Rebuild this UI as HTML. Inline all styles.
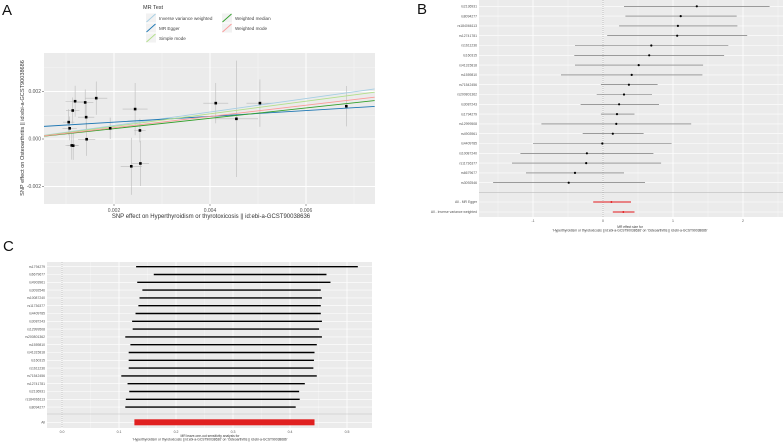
<!DOCTYPE html>
<html><head><meta charset="utf-8">
<style>
html,body{margin:0;padding:0;background:#fff;}
svg{display:block;font-family:"Liberation Sans",sans-serif;}
</style></head>
<body>
<svg id="fig" width="783" height="444" viewBox="0 0 783 444" xmlns="http://www.w3.org/2000/svg"></svg>
<script>
// ---------- Panel A data ----------
const aSnpX = [1.056,1.076,1.12,1.15,1.14,1.19,1.40,1.42,1.43,1.63,1.92,2.36,2.44,2.54,2.55,4.12,4.55,5.04,6.84]; // x1e-3
const aSnpY = [0.71,0.45,-0.27,-0.28,1.20,1.59,1.54,0.92,-0.01,1.72,0.45,-1.15,1.26,0.36,-1.03,1.51,0.85,1.51,1.38];
const aSeX  = [0.12,0.15,0.13,0.12,0.14,0.20,0.17,0.17,0.18,0.23,0.01,0.22,0.26,0.12,0.18,0.26,0.45,0.28,0.01];
const aSeY  = [0.55,0.5,0.6,0.6,0.55,0.65,0.55,0.55,0.7,0.7,0.45,1.2,1.1,0.5,0.95,0.85,2.45,1.0,0.85];
const methodNames = ["Inverse variance weighted","MR Egger","Simple mode","Weighted median","Weighted mode"];
const methodSlopes = [0.284,0.122,0.265,0.218,0.237];
const methodIntercepts = [0,0.465,0,0,0];
const methodColors = ["#a6cee3","#1f78b4","#b2df8a","#33a02c","#fb9a99"];
const aXTicks = [0.002,0.004,0.006];
const aYTicks = [-0.002,0.000,0.002];

// ---------- Panel B data ----------
const bSnps = ["rs2136931","rs8094277","rs184066113","rs12741781","rs1611236","rs160315","rs41315818","rs1559810","rs71542456","rs200801362","rs3087243","rs1794279","rs12999508","rs4903961","rs4409785","rs10087240","rs11736377","rs6679677","rs3092546"];
const bEst = [1.34,1.11,1.07,1.06,0.69,0.66,0.51,0.41,0.37,0.30,0.23,0.20,0.19,0.14,-0.01,-0.23,-0.24,-0.40,-0.49];
const bLo  = [0.30,0.32,0.23,0.06,-0.40,-0.41,-0.40,-0.60,-0.03,-0.09,-0.32,-0.03,-0.88,-0.29,-1.00,-1.18,-1.30,-1.10,-1.57];
const bHi  = [2.38,1.91,1.92,2.06,1.79,1.73,1.43,1.42,0.78,0.70,0.80,0.45,1.26,0.58,0.98,0.72,0.83,0.30,0.60];
const bAllNames = ["All - MR Egger","All - Inverse variance weighted"];
const bAllEst = [0.12,0.29];
const bAllLo = [-0.14,0.14];
const bAllHi = [0.40,0.45];
const bXTicks = [-1,0,1,2];

// ---------- Panel C data ----------
const cSnps = ["rs1794279","rs6679677","rs4903961","rs3092546","rs10087240","rs11736377","rs4409785","rs3087243","rs12999508","rs200801362","rs1559810","rs41315818","rs160315","rs1611236","rs71542456","rs12741781","rs2136931","rs184066113","rs8094277"];
const cLo = [0.130,0.161,0.132,0.141,0.136,0.134,0.129,0.123,0.124,0.111,0.120,0.117,0.117,0.117,0.104,0.115,0.118,0.112,0.111];
const cHi = [0.519,0.464,0.471,0.454,0.456,0.454,0.454,0.456,0.451,0.456,0.447,0.443,0.442,0.441,0.447,0.426,0.416,0.417,0.410];
const cAllLo = [0.127];
const cAllHi = [0.443];
const cXTicks = [0.0,0.1,0.2,0.3,0.4,0.5];

const NS="http://www.w3.org/2000/svg";
const svg=document.getElementById('fig');
function mk(tag,attrs,parent,text){const e=document.createElementNS(NS,tag);for(const k in attrs)e.setAttribute(k,attrs[k]);if(text!==undefined)e.textContent=text;(parent||svg).appendChild(e);return e;}

// ================= Panel A =================
const gA=mk('g',{});


const AL=44,AR=375,AT=53,AB=204;
const ax=v=>18+v*48000;        // v in raw units
const ay=v=>139-v*23750;
mk('text',{x:2,y:15,'font-size':15,fill:'#111'},gA,'A');
mk('rect',{x:AL,y:AT,width:AR-AL,height:AB-AT,fill:'#ebebeb'},gA);
// minor grid
[0.001,0.003,0.005,0.007].forEach(v=>{const x=ax(v);if(x>AL&&x<AR)mk('line',{x1:x,x2:x,y1:AT,y2:AB,stroke:'#f5f5f5','stroke-width':0.5},gA);});
[-0.003,-0.001,0.001,0.003].forEach(v=>{const y=ay(v);if(y>AT&&y<AB)mk('line',{x1:AL,x2:AR,y1:y,y2:y,stroke:'#f5f5f5','stroke-width':0.5},gA);});
aXTicks.forEach(v=>{const x=ax(v);mk('line',{x1:x,x2:x,y1:AT,y2:AB,stroke:'#fff','stroke-width':1},gA);
  mk('line',{x1:x,x2:x,y1:AB,y2:AB+2,stroke:'#444','stroke-width':0.5},gA);
  const t=mk('text',{x:x,y:AB+8,'font-size':5,fill:'#555','text-anchor':'middle'},gA,v.toFixed(3));});
aYTicks.forEach(v=>{const y=ay(v);mk('line',{x1:AL,x2:AR,y1:y,y2:y,stroke:'#fff','stroke-width':1},gA);
  mk('line',{x1:AL-2,x2:AL,y1:y,y2:y,stroke:'#444','stroke-width':0.5},gA);
  const t=mk('text',{x:AL-3,y:y+1.7,'font-size':5,fill:'#555','text-anchor':'end'},gA,v.toFixed(3));});
// error bars
aSnpX.forEach((xv,i)=>{const x=ax(xv/1000),y=ay(aSnpY[i]/1000);
  mk('line',{x1:ax((xv-aSeX[i])/1000),x2:ax((xv+aSeX[i])/1000),y1:y,y2:y,stroke:'#bbb','stroke-width':0.6},gA);
  mk('line',{x1:x,x2:x,y1:ay((aSnpY[i]-aSeY[i])/1000),y2:ay((aSnpY[i]+aSeY[i])/1000),stroke:'#bbb','stroke-width':0.6},gA);});
// lines
const aClip=mk('clipPath',{id:'clipA'},gA);mk('rect',{x:AL,y:AT,width:AR-AL,height:AB-AT},aClip);
methodNames.forEach((n,i)=>{const x0=0.000535,x1=0.00743;
  const l=mk('line',{x1:ax(x0),x2:ax(x1),y1:ay(methodIntercepts[i]/1000+methodSlopes[i]*x0),y2:ay(methodIntercepts[i]/1000+methodSlopes[i]*x1),stroke:methodColors[i],'stroke-width':0.9,'clip-path':'url(#clipA)'},gA);
  
  });
aSnpX.forEach((xv,i)=>{const p=mk('rect',{x:ax(xv/1000)-1.3,y:ay(aSnpY[i]/1000)-1.3,width:2.6,height:2.6,fill:'#000'},gA);
  
  });
let t=mk('text',{x:211,y:218,'font-size':6,fill:'#333','text-anchor':'middle'},gA,'SNP effect on Hyperthyroidism or thyrotoxicosis || id:ebi-a-GCST90038636');

t=mk('text',{x:0,y:0,'font-size':5.6,fill:'#333','text-anchor':'middle',transform:'translate(24,128) rotate(-90)'},gA,'SNP effect on Osteoarthritis || id:ebi-a-GCST90038686');

// legend
const lg=mk('g',{},gA);


mk('text',{x:143,y:9,'font-size':5.5,fill:'#333'},lg,'MR Test');
const legPos=[[146,18],[146,28],[146,38],[222,18],[222,28]];
const legOrder=[0,1,2,3,4];
legOrder.forEach((mi,k)=>{const [x,y]=legPos[k];
  const e=mk('g',{},lg);
  
  
  mk('rect',{x:x,y:y-4.5,width:10,height:9,fill:'#f2f2f2'},e);
  mk('line',{x1:x+0.5,y1:y+4,x2:x+9.5,y2:y-4,stroke:methodColors[mi],'stroke-width':0.9},e);
  mk('text',{x:x+13,y:y+1.8,'font-size':4.6,fill:'#444'},e,methodNames[mi]);});

// ================= Panel B =================
const gB=mk('g',{});


const BL=479,BR=783,BT=0,BB=217;
const bx=v=>603+v*70;
const by=i=>6.3+i*9.8;
mk('text',{x:417,y:14,'font-size':15,fill:'#111'},gB,'B');
mk('rect',{x:BL,y:BT,width:BR-BL,height:BB-BT,fill:'#ebebeb'},gB);
[-1.5,-0.5,0.5,1.5,2.5].forEach(v=>{const x=bx(v);if(x>BL&&x<BR)mk('line',{x1:x,x2:x,y1:BT,y2:BB,stroke:'#f5f5f5','stroke-width':0.5},gB);});
bXTicks.forEach(v=>{const x=bx(v);mk('line',{x1:x,x2:x,y1:BT,y2:BB,stroke:'#fff','stroke-width':0.8},gB);
  const tt=mk('text',{x:x,y:BB+5,'font-size':3.5,fill:'#555','text-anchor':'middle'},gB,String(v));});
bSnps.forEach((s,i)=>{mk('line',{x1:BL,x2:BR,y1:by(i),y2:by(i),stroke:'#fff','stroke-width':0.6},gB);});
bAllNames.forEach((s,i)=>{const y=202+i*10;mk('line',{x1:BL,x2:BR,y1:y,y2:y,stroke:'#fff','stroke-width':0.6},gB);});
mk('line',{x1:BL,x2:BR,y1:192.7,y2:192.7,stroke:'#bdbdbd','stroke-width':0.6},gB);
mk('line',{x1:bx(0),x2:bx(0),y1:BT,y2:BB,stroke:'#888','stroke-width':0.5,'stroke-dasharray':'1,1'},gB);
bSnps.forEach((s,i)=>{const y=by(i);
  const l=mk('line',{x1:bx(bLo[i]),x2:bx(bHi[i]),y1:y,y2:y,stroke:'#666','stroke-width':0.6},gB);
  
  const p=mk('circle',{cx:bx(bEst[i]),cy:y,r:1.1,fill:'#000'},gB);
  
  
  mk('text',{x:477,y:y+1.2,'font-size':3.4,fill:'#555','text-anchor':'end'},gB,s);});
bAllNames.forEach((s,i)=>{const y=202+i*10;
  const l=mk('line',{x1:bx(bAllLo[i]),x2:bx(bAllHi[i]),y1:y,y2:y,stroke:'#e41a1c','stroke-width':0.9},gB);
  
  mk('circle',{cx:bx(bAllEst[i]),cy:y,r:1,fill:'#e41a1c'},gB);
  mk('text',{x:477,y:y+1.2,'font-size':3.4,fill:'#555','text-anchor':'end'},gB,s);});
t=mk('text',{x:630,y:228,'font-size':3.3,fill:'#333','text-anchor':'middle'},gB,'MR effect size for');

mk('text',{x:630,y:231.5,'font-size':3.3,fill:'#333','text-anchor':'middle'},gB,"'Hyperthyroidism or thyrotoxicosis || id:ebi-a-GCST90038636' on 'Osteoarthritis || id:ebi-a-GCST90038686'");

// ================= Panel C =================
const gC=mk('g',{});


const CL=47,CR=372,CT=262,CB=428;
const cx=v=>62+v*570;
const cy=i=>266.7+i*7.8;
mk('text',{x:3,y:251,'font-size':15,fill:'#111'},gC,'C');
mk('rect',{x:CL,y:CT,width:CR-CL,height:CB-CT,fill:'#ebebeb'},gC);
[0.05,0.15,0.25,0.35,0.45,0.55].forEach(v=>{const x=cx(v);if(x>CL&&x<CR)mk('line',{x1:x,x2:x,y1:CT,y2:CB,stroke:'#f5f5f5','stroke-width':0.5},gC);});
cXTicks.forEach(v=>{const x=cx(v);mk('line',{x1:x,x2:x,y1:CT,y2:CB,stroke:'#fff','stroke-width':0.8},gC);
  const tt=mk('text',{x:x,y:CB+5,'font-size':3.5,fill:'#555','text-anchor':'middle'},gC,v.toFixed(1));});
cSnps.forEach((s,i)=>mk('line',{x1:CL,x2:CR,y1:cy(i),y2:cy(i),stroke:'#fff','stroke-width':0.6},gC));
mk('line',{x1:CL,x2:CR,y1:422.3,y2:422.3,stroke:'#fff','stroke-width':0.6},gC);
mk('line',{x1:CL,x2:CR,y1:414,y2:414,stroke:'#bdbdbd','stroke-width':0.6},gC);
mk('line',{x1:cx(0),x2:cx(0),y1:CT,y2:CB,stroke:'#999','stroke-width':0.5,'stroke-dasharray':'1,1'},gC);
cSnps.forEach((s,i)=>{const y=cy(i);
  const l=mk('line',{x1:cx(cLo[i]),x2:cx(cHi[i]),y1:y,y2:y,stroke:'#000','stroke-width':1.4},gC);
  
  
  mk('text',{x:45,y:y+1.2,'font-size':3.4,fill:'#555','text-anchor':'end'},gC,s);});
const allBar=mk('rect',{x:cx(cAllLo[0]),y:419.3,width:cx(cAllHi[0])-cx(cAllLo[0]),height:6,fill:'#e02020'},gC);


mk('text',{x:45,y:423.5,'font-size':3.4,fill:'#555','text-anchor':'end'},gC,'All');
t=mk('text',{x:210,y:437,'font-size':3.3,fill:'#333','text-anchor':'middle'},gC,'MR leave-one-out sensitivity analysis for');

mk('text',{x:210,y:440.5,'font-size':3.3,fill:'#333','text-anchor':'middle'},gC,"'Hyperthyroidism or thyrotoxicosis || id:ebi-a-GCST90038636' on 'Osteoarthritis || id:ebi-a-GCST90038686'");
</script>
</body></html>
